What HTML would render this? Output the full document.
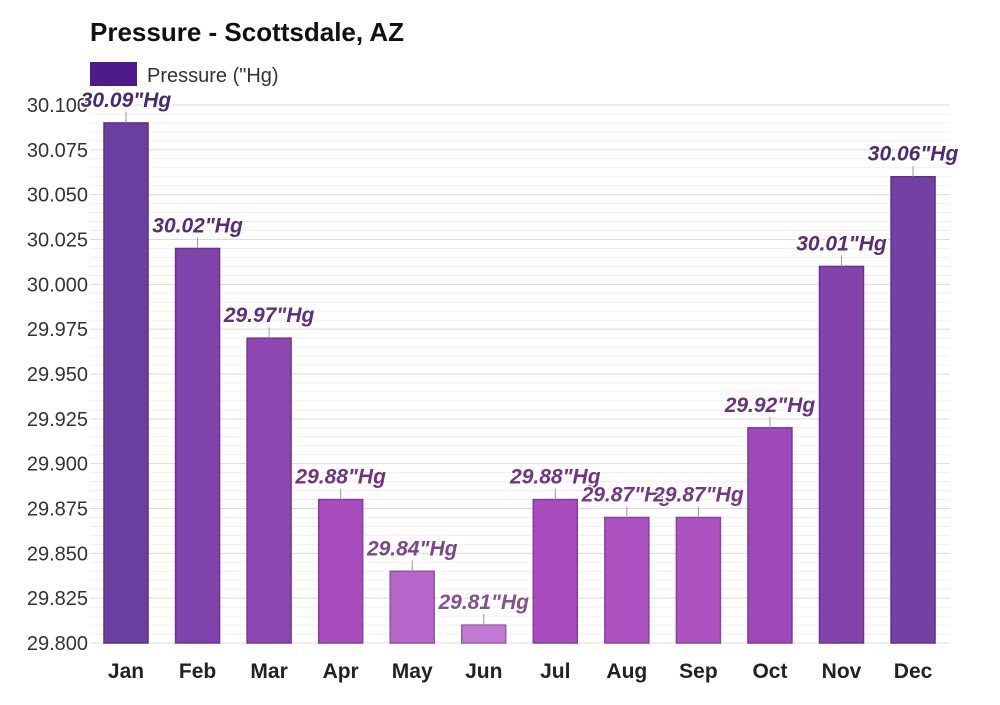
<!DOCTYPE html>
<html><head><meta charset="utf-8"><style>
body{margin:0;background:#fff;font-family:"Liberation Sans",sans-serif}
svg text{font-family:"Liberation Sans",sans-serif}
</style></head><body>
<svg width="1000" height="700">
<text x="90" y="41" font-size="26" font-weight="bold" fill="#111">Pressure - Scottsdale, AZ</text>
<g>
<rect x="90" y="62" width="47" height="24" fill="#4f1a8a"/>
<text x="147" y="82" font-size="20" fill="#333">Pressure ("Hg)</text>
</g>
<g id="grid"></g><g id="bars"></g><g id="labels"></g>
</svg>
<script>
const months=["Jan","Feb","Mar","Apr","May","Jun","Jul","Aug","Sep","Oct","Nov","Dec"];
const values=[30.09,30.02,29.97,29.88,29.84,29.81,29.88,29.87,29.87,29.92,30.01,30.06];
const tickLabels=["29.800","29.825","29.850","29.875","29.900","29.925","29.950","29.975","30.000","30.025","30.050","30.075","30.100"];
const yMin=29.8,yMax=30.1,plotTop=105,plotBot=643,plotLeft=90,plotRight=950;
const yScale=v=>plotBot-(v-yMin)/(yMax-yMin)*(plotBot-plotTop);
const xScale=i=>126+i*71.55;
const NS="http://www.w3.org/2000/svg";
function mk(t,a,p){const e=document.createElementNS(NS,t);for(const k in a)e.setAttribute(k,a[k]);p.appendChild(e);return e;}
const grid=document.getElementById('grid'),bars=document.getElementById('bars'),labels=document.getElementById('labels');
for(let k=0;k<=60;k++){const v=yMin+k*0.005;const yy=yScale(v);
 const l=mk('line',{x1:plotLeft,x2:plotRight,y1:yy,y2:yy,stroke:k%5==0?'#dcdcdc':'#f0edf2','stroke-width':1},grid);
 
 }
tickLabels.forEach(t=>{const tt=mk('text',{x:88,y:yScale(parseFloat(t))+7,'font-size':20,'text-anchor':'end',fill:'#333'},grid);tt.textContent=t;
 
 });
function barColor(v){const t=(v-yMin)/(yMax-yMin);
 const light=[196,128,212],mid=[168,75,190],dark=[104,62,160];
 let c;if(t<0.27){const s=t/0.27;c=light.map((a,i)=>a+(mid[i]-a)*s);}else{const s=(t-0.27)/0.73;c=mid.map((a,i)=>a+(dark[i]-a)*s);}
 return c.map(Math.round);}
values.forEach((v,i)=>{const c=barColor(v);const cx=xScale(i);const yt=yScale(v);
 const r=mk('rect',{x:cx-22,y:yt,width:44,height:plotBot-yt,fill:`rgb(${c})`,stroke:`rgb(${c.map(a=>a*0.8|0)})`,'stroke-width':1.5},bars);
 
 
 const tk=mk('line',{x1:cx,x2:cx,y1:yt-11,y2:yt,stroke:'#999'},bars);
 
 
 const lt=mk('text',{x:cx,y:yt-16,'font-size':21,'font-weight':'bold','font-style':'italic','text-anchor':'middle',fill:`rgb(${c.map(a=>a*0.68|0)})`,stroke:'#fff','stroke-width':3,'paint-order':'stroke'},labels);
 lt.textContent=v.toFixed(2)+'"Hg';
 
 
 const ml=mk('text',{x:cx,y:678,'font-size':21,'font-weight':'bold','text-anchor':'middle',fill:'#222'},grid);
 ml.textContent=months[i];
 
 });
</script>
</body></html>
